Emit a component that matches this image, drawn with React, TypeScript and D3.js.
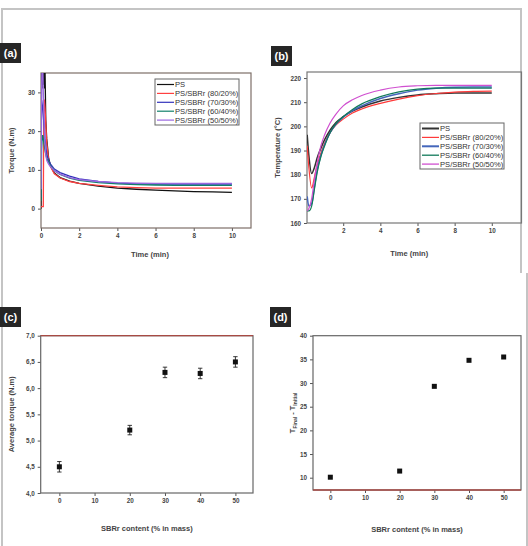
import React, { useEffect, useRef } from 'react';
import * as d3 from 'd3';

// (a) torque vs time
const torqueTime = [0, 0.03, 0.06, 0.09, 0.12, 0.15, 0.18, 0.21, 0.25, 0.3, 0.4, 0.5, 0.7, 1, 1.5, 2, 3, 4, 5, 6, 7, 8, 9, 10];
const torquePS = [0, 38, 31, 40, 32, 40, 31, 36, 23, 18, 13, 11, 9.2, 8.0, 7.1, 6.5, 5.8, 5.3, 5.0, 4.8, 4.6, 4.4, 4.3, 4.2];
const torque8020 = [0.5, 0.5, 0.5, 0.5, 0.5, 28, 28, 26, 22, 17, 12.5, 10.8, 9.0, 7.9, 7.0, 6.5, 6.0, 5.6, 5.4, 5.3, 5.3, 5.3, 5.3, 5.3];
const torque7030 = [3, 28, 27, 26, 24, 22, 20, 18, 16, 14, 12.5, 11.5, 10.2, 9.3, 8.4, 7.7, 7.0, 6.6, 6.4, 6.3, 6.3, 6.3, 6.3, 6.3];
const torque6040 = [2, 15, 18, 19, 18, 17, 16, 15, 14, 13, 12, 11, 9.8, 8.8, 7.9, 7.3, 6.7, 6.4, 6.2, 6.1, 6.0, 6.0, 6.0, 6.0];
const torque5050 = [5, 30, 40, 38, 30, 25, 20, 17, 14, 12.5, 11.5, 10.8, 9.8, 8.9, 8.0, 7.5, 7.0, 6.7, 6.6, 6.5, 6.5, 6.5, 6.5, 6.5];

// (b) temperature vs time
const tempTime = [0.06, 0.15, 0.3, 0.45, 0.6, 0.8, 1, 1.3, 1.6, 2, 2.5, 3, 4, 5, 6, 7, 8, 9, 10];
const tempPS = [196.5, 188, 180.5, 183, 187, 191, 194.5, 198.5, 201.5, 204, 206.3, 208, 210.5, 212, 213, 213.5, 213.8, 213.8, 213.8];
const temp8020 = [192, 183, 174.5, 179, 184, 189, 193, 197.5, 200.5, 203, 205.5, 207.2, 209.5, 211.3, 212.7, 213.6, 214.2, 214.5, 214.6];
const temp7030 = [171, 167, 168, 175, 182, 188, 192.5, 197.5, 200.8, 203.8, 206.5, 208.5, 211.5, 213.5, 215, 215.8, 216.2, 216.3, 216.3];
const temp6040 = [165, 165, 167, 174, 181, 187.5, 192, 197.5, 201, 204, 207, 209.3, 212.3, 214.3, 215.4, 215.8, 215.8, 215.8, 215.8];
const temp5050 = [165, 166, 170, 178, 185, 192, 196.5, 201.5, 205, 208.5, 211, 212.8, 215, 216.3, 216.8, 217, 217, 217, 217];

const seriesNames = ['PS', 'PS/SBRr (80/20%)', 'PS/SBRr (70/30%)', 'PS/SBRr (60/40%)', 'PS/SBRr (50/50%)'];
const colorsA = ['#111111', '#ff4040', '#3333bb', '#11806a', '#9a66e0'];
const colorsB = ['#333333', '#ff3a3a', '#4466bb', '#117a5a', '#d050d0'];

// (c) and (d)
const content = [0, 20, 30, 40, 50];
const avgTorque = [4.5, 5.2, 6.3, 6.28, 6.5];
const avgTorqueErr = [0.1, 0.09, 0.1, 0.1, 0.1];
const deltaT = [10.1, 11.4, 29.3, 34.8, 35.5];

const FONT = "'Liberation Sans', Arial, sans-serif";

const App = () => {
  const ref = useRef(null);

  useEffect(() => {
    const svg = d3.select(ref.current);
    svg.selectAll('*').remove();

    // outer frame
    svg.append('path')
      .attr('d', 'M2,546 L2,9 L521,9 L521,273 M527,273 L527,546')
      .attr('fill', 'none')
      .attr('stroke', '#c4c4c4')
      .attr('stroke-width', 2);

    const defs = svg.append('defs');

    const panel = (cfg) => {
      const { x, y, xMajor, xMinor, yMajor, yMinor, yFmt, id } = cfg;
      const g = svg.append('g').attr('font-family', FONT);
      const [x0, x1] = x.range();
      const [y1, y0] = y.range();

      defs.append('clipPath').attr('id', id)
        .append('rect').attr('x', x0).attr('y', y0).attr('width', x1 - x0).attr('height', y1 - y0);

      const bottom = g.append('g').attr('transform', `translate(0,${y1})`);
      bottom.call(d3.axisBottom(x).tickValues(xMinor).tickSize(2).tickFormat(() => ''));
      bottom.call(d3.axisBottom(x).tickValues(xMajor).tickSize(3).tickPadding(3).tickFormat(d3.format('d')));
      const left = g.append('g').attr('transform', `translate(${x0},0)`);
      left.call(d3.axisLeft(y).tickValues(yMinor).tickSize(2).tickFormat(() => ''));
      left.call(d3.axisLeft(y).tickValues(yMajor).tickSize(3).tickPadding(3).tickFormat(yFmt));
      g.selectAll('.domain').remove();
      g.selectAll('.tick line').attr('stroke', '#555');
      g.selectAll('.tick text').attr('font-size', 6.3).attr('font-weight', 'bold').attr('fill', '#444').attr('font-family', FONT);

      g.append('rect')
        .attr('x', x0).attr('y', y0).attr('width', x1 - x0).attr('height', y1 - y0)
        .attr('fill', 'none').attr('stroke', cfg.frame).attr('stroke-width', 1.2);
      if (cfg.accentTop) {
        g.append('line').attr('x1', x0).attr('x2', x1).attr('y1', y0).attr('y2', y0)
          .attr('stroke', cfg.accentTop).attr('stroke-width', 1.3);
      }
      if (cfg.accentBottom) {
        g.append('line').attr('x1', x0).attr('x2', x1).attr('y1', y1).attr('y2', y1)
          .attr('stroke', cfg.accentBottom).attr('stroke-width', 1.3);
      }

      // panel tag
      g.append('rect').attr('x', cfg.tag[0]).attr('y', cfg.tag[1]).attr('width', 21).attr('height', 20)
        .attr('fill', '#262626');
      g.append('text').attr('x', cfg.tag[0] + 10.5).attr('y', cfg.tag[1] + 14)
        .attr('text-anchor', 'middle').attr('fill', '#fff').attr('font-size', 11).attr('font-weight', 'bold')
        .text(cfg.tagText);

      // axis titles
      g.append('text').attr('x', (x0 + x1) / 2 + (cfg.xTitleDx || 0)).attr('y', cfg.xTitleY)
        .attr('text-anchor', 'middle').attr('font-size', 7.5).attr('font-weight', 'bold').attr('fill', '#444')
        .text(cfg.xTitle);
      const yt = g.append('text')
        .attr('transform', `translate(${cfg.yTitleX},${(y0 + y1) / 2}) rotate(-90)`)
        .attr('text-anchor', 'middle').attr('font-size', 7.5).attr('font-weight', 'bold').attr('fill', '#444');
      if (typeof cfg.yTitle === 'string') yt.text(cfg.yTitle);
      else cfg.yTitle(yt);
      return g;
    };

    const legend = (g, bx, by, colors, lw) => {
      g.append('rect').attr('x', bx).attr('y', by).attr('width', 84).attr('height', 46)
        .attr('fill', '#fff').attr('stroke', '#666').attr('stroke-width', 1);
      seriesNames.forEach((name, i) => {
        const yy = by + 5.5 + i * 8.9;
        g.append('line').attr('x1', bx + 2).attr('x2', bx + 19).attr('y1', yy).attr('y2', yy)
          .attr('stroke', colors[i]).attr('stroke-width', lw[i]);
        g.append('text').attr('x', bx + 20).attr('y', yy + 2.7).attr('font-size', 7.6)
          .attr('fill', '#333').text(name);
      });
    };

    // ---------- (a) ----------
    const xa = d3.scaleLinear().domain([0, 11]).range([41, 251]);
    const ya = d3.scaleLinear().domain([-5, 35]).range([228, 73]);
    const ga = panel({
      id: 'clipA', x: xa, y: ya,
      xMajor: [0, 2, 4, 6, 8, 10], xMinor: d3.range(0, 12, 1),
      yMajor: [0, 10, 20, 30], yMinor: [-5, 5, 15, 25, 35], yFmt: d3.format('d'),
      frame: '#7d6f68', tag: [0, 43], tagText: '(a)',
      xTitle: 'Time (min)', xTitleY: 257, xTitleDx: 4, yTitle: 'Torque (N.m)', yTitleX: 14,
    });
    const lineA = d3.line().x((d) => xa(d[0])).y((d) => ya(d[1]));
    [torquePS, torque8020, torque7030, torque6040, torque5050].forEach((vals, i) => {
      ga.append('path')
        .datum(torqueTime.map((t, j) => [t, vals[j]]))
        .attr('d', lineA).attr('fill', 'none').attr('stroke', colorsA[i]).attr('stroke-width', 1.3)
        .attr('clip-path', 'url(#clipA)');
    });
    legend(ga, 155, 79, colorsA, [1.2, 1.2, 1.2, 1.2, 1.2]);

    // ---------- (b) ----------
    const xb = d3.scaleLinear().domain([0.05, 11.6]).range([307, 521.5]);
    const yb = d3.scaleLinear().domain([160, 222.5]).range([223, 72]);
    const gb = panel({
      id: 'clipB', x: xb, y: yb,
      xMajor: [2, 4, 6, 8, 10], xMinor: d3.range(1, 12, 1),
      yMajor: d3.range(160, 221, 10), yMinor: d3.range(165, 221, 10), yFmt: d3.format('d'),
      frame: '#777', tag: [271, 46], tagText: '(b)',
      xTitle: 'Time (min)', xTitleY: 256, xTitleDx: -5, yTitle: 'Temperature (°C)', yTitleX: 280,
    });
    const lineB = d3.line().curve(d3.curveMonotoneX).x((d) => xb(d[0])).y((d) => yb(d[1]));
    const widthsB = [2, 1.2, 2, 1.3, 1.3];
    [tempPS, temp8020, temp7030, temp6040, temp5050].forEach((vals, i) => {
      gb.append('path')
        .datum(tempTime.map((t, j) => [t, vals[j]]))
        .attr('d', lineB).attr('fill', 'none').attr('stroke', colorsB[i]).attr('stroke-width', i === 0 || i === 2 ? 1.5 : 1.2)
        .attr('clip-path', 'url(#clipB)');
    });
    legend(gb, 420, 123, colorsB, widthsB);

    // ---------- (c) ----------
    const xc = d3.scaleLinear().domain([-5.3, 55]).range([40.7, 253]);
    const yc = d3.scaleLinear().domain([4, 7]).range([493, 335.7]);
    const gc = panel({
      id: 'clipC', x: xc, y: yc,
      xMajor: [0, 10, 20, 30, 40, 50], xMinor: [-5, 5, 15, 25, 35, 45, 55],
      yMajor: d3.range(4, 7.01, 0.5), yMinor: d3.range(4.25, 7, 0.5),
      yFmt: (d) => d3.format('.1f')(d).replace('.', ','),
      frame: '#666', accentTop: '#a84a44', tag: [0, 307], tagText: '(c)',
      xTitle: 'SBRr content (% in mass)', xTitleY: 531, xTitleDx: 0, yTitle: 'Average torque  (N.m)', yTitleX: 14,
    });
    content.forEach((c, i) => {
      const cx = xc(c);
      const top = yc(avgTorque[i] + avgTorqueErr[i]);
      const bot = yc(avgTorque[i] - avgTorqueErr[i]);
      gc.append('line').attr('x1', cx).attr('x2', cx).attr('y1', top).attr('y2', bot).attr('stroke', '#222').attr('stroke-width', 0.9);
      [top, bot].forEach((yy) => gc.append('line').attr('x1', cx - 2.2).attr('x2', cx + 2.2).attr('y1', yy).attr('y2', yy)
        .attr('stroke', '#222').attr('stroke-width', 0.9));
      gc.append('rect').attr('x', cx - 2.5).attr('y', yc(avgTorque[i]) - 2.5).attr('width', 5).attr('height', 5).attr('fill', '#111');
    });

    // ---------- (d) ----------
    const xd = d3.scaleLinear().domain([-5, 55]).range([313, 521]);
    const yd = d3.scaleLinear().domain([7.4, 40]).range([490, 335.7]);
    const gd = panel({
      id: 'clipD', x: xd, y: yd,
      xMajor: [0, 10, 20, 30, 40, 50], xMinor: [-5, 5, 15, 25, 35, 45, 55],
      yMajor: d3.range(10, 41, 5), yMinor: d3.range(12.5, 40, 5), yFmt: d3.format('d'),
      frame: '#666', accentBottom: '#a84a44', tag: [270, 307], tagText: '(d)',
      xTitle: 'SBRr content (% in mass)', xTitleY: 532, xTitleDx: 0, yTitleX: 295,
      yTitle: (t) => {
        t.append('tspan').text('T');
        t.append('tspan').attr('font-size', 5).attr('dy', 2).text('Final');
        t.append('tspan').attr('dy', -2).text(' - T');
        t.append('tspan').attr('font-size', 5).attr('dy', 2).text('Initial');
      },
    });
    content.forEach((c, i) => {
      gd.append('rect').attr('x', xd(c) - 2.5).attr('y', yd(deltaT[i]) - 2.5).attr('width', 5).attr('height', 5).attr('fill', '#111');
    });
  }, []);

  return (
    <svg ref={ref} width={528} height={546} style={{ position: 'absolute', left: 0, top: 0, background: '#fff' }}></svg>
  );
};

export default App;
